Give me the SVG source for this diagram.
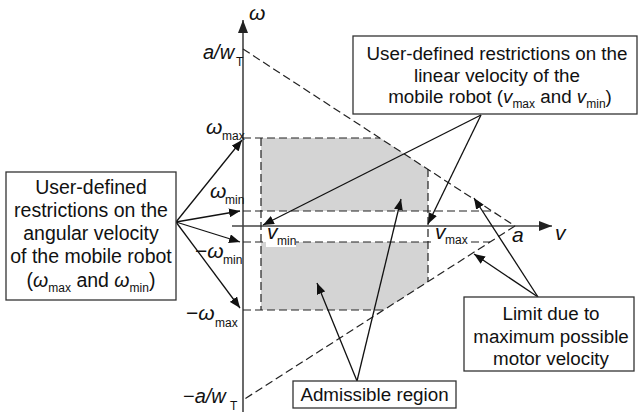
<svg xmlns="http://www.w3.org/2000/svg" width="639" height="412" viewBox="0 0 639 412">
<style>
text{font-family:"Liberation Sans",Arial,sans-serif;fill:#111}
.bt{font-size:19.5px}
.bs{font-size:18.8px}
.m{font-size:21px}
.m2{font-size:20px}
.it{font-style:italic}
.s{font-size:12px}
.box{fill:#fff;stroke:#333;stroke-width:1.3}
.dash{fill:none;stroke:#222;stroke-width:1.2;stroke-dasharray:8 4}
.axis{fill:none;stroke:#444;stroke-width:1.6}
.arr{fill:none;stroke:#111;stroke-width:1.3;marker-end:url(#ah)}
.grey{fill:#d4d4d4;stroke:none}
</style>
<defs>
<marker id="ah" markerUnits="userSpaceOnUse" markerWidth="12" markerHeight="9" refX="11" refY="4.5" orient="auto">
<path d="M0,0 L11,4.5 L0,9 z" fill="#111"/>
</marker>
<marker id="axh" markerUnits="userSpaceOnUse" markerWidth="14" markerHeight="10" refX="13" refY="5" orient="auto">
<path d="M0,0 L13,5 L0,10 z" fill="#222"/>
</marker>
</defs>
<g id="regions">
<polygon class="grey" points="261,138 380,138 428,169.4 428,211 261,211"/>
<polygon class="grey" points="261,242 428,242 428,281.7 383.7,310 261,310"/>
</g>
<g id="axes">
<line class="axis" x1="243" y1="412" x2="243" y2="20" marker-end="url(#axh)"/>
<line class="axis" x1="232" y1="226" x2="552" y2="226" marker-end="url(#axh)"/>
</g>
<g id="limits">
<line class="dash" x1="243" y1="49" x2="515" y2="226"/>
<line class="dash" x1="515" y1="226" x2="243" y2="400"/>
<line class="dash" x1="243" y1="138" x2="380" y2="138"/>
<line class="dash" x1="243" y1="211" x2="492" y2="211"/>
<line class="dash" x1="243" y1="242" x2="490" y2="242"/>
<line class="dash" x1="243" y1="310" x2="384" y2="310"/>
<line class="dash" x1="261" y1="138" x2="261" y2="310"/>
<line class="dash" x1="428" y1="169" x2="428" y2="282"/>
</g>
<g id="axis-labels">
<text class="m it" x="249" y="20">ω</text>
<text class="m2 it" x="203" y="59">a/w</text><text class="s" x="236" y="66">T</text>
<text class="m it" x="206" y="134">ω</text><text class="s" x="222" y="140">max</text>
<text class="m it" x="210" y="198">ω</text><text class="s" x="225" y="204">min</text>
<text class="m" x="195" y="258">−<tspan class="it">ω</tspan></text><text class="s" x="223" y="264">min</text>
<text class="m" x="186" y="320">−<tspan class="it">ω</tspan></text><text class="s" x="215" y="327">max</text>
<text class="m2" x="183" y="403">−<tspan class="it">a/w</tspan></text><text class="s" x="230" y="410">T</text>
<rect x="266" y="229" width="30" height="18" fill="#fff"/>
<text class="m it" x="267" y="239">v</text><text class="s" x="277" y="245">min</text>
<rect x="432" y="229" width="35" height="18" fill="#fff"/>
<text class="m it" x="435" y="239">v</text><text class="s" x="445" y="244">max</text>
<text class="m it" x="512" y="242">a</text>
<text class="m it" x="555" y="240">v</text>
</g>
<g id="connectors">
<line class="arr" x1="176" y1="222" x2="242" y2="140"/>
<line class="arr" x1="176" y1="222" x2="240" y2="211"/>
<line class="arr" x1="176" y1="222" x2="240" y2="242"/>
<line class="arr" x1="176" y1="222" x2="240" y2="308"/>
<line class="arr" x1="481" y1="115" x2="263" y2="225"/>
<line class="arr" x1="481" y1="115" x2="428" y2="224"/>
<line class="arr" x1="538" y1="297" x2="474" y2="198"/>
<line class="arr" x1="538" y1="297" x2="474" y2="254"/>
<line class="arr" x1="357" y1="381" x2="317" y2="283"/>
<line class="arr" x1="357" y1="381" x2="401" y2="199"/>
</g>
<g id="angular-box">
<rect class="box" x="6" y="172" width="170" height="128"/>
<text class="bt" x="91" y="194" text-anchor="middle">User-defined</text>
<text class="bt" x="91" y="217" text-anchor="middle">restrictions on the</text>
<text class="bt" x="91" y="240" text-anchor="middle">angular velocity</text>
<text class="bt" x="91" y="263" text-anchor="middle">of the mobile robot</text>
<text class="bt" x="91" y="287" text-anchor="middle">(<tspan class="it">ω</tspan><tspan class="s" dy="5">max</tspan><tspan dy="-5"> and </tspan><tspan class="it">ω</tspan><tspan class="s" dy="5">min</tspan><tspan dy="-5">)</tspan></text>
</g>
<g id="linear-box">
<rect class="box" x="353" y="36" width="284" height="78"/>
<text class="bs" x="497" y="60" text-anchor="middle">User-defined restrictions on the</text>
<text class="bs" x="497" y="82" text-anchor="middle">linear velocity of the</text>
<text class="bs" x="500" y="103" text-anchor="middle">mobile robot (<tspan class="it">v</tspan><tspan class="s" dy="5">max</tspan><tspan dy="-5"> and </tspan><tspan class="it">v</tspan><tspan class="s" dy="5">min</tspan><tspan dy="-5">)</tspan></text>
</g>
<g id="limit-box">
<rect class="box" x="464" y="297" width="170" height="74"/>
<text class="bs" x="551" y="320" text-anchor="middle">Limit due to</text>
<text class="bs" x="551" y="343" text-anchor="middle">maximum possible</text>
<text class="bs" x="551" y="365" text-anchor="middle">motor velocity</text>
</g>
<g id="admissible-box">
<rect class="box" x="293" y="381" width="163" height="27"/>
<text class="bs" x="374.5" y="401" text-anchor="middle">Admissible region</text>
</g>
</svg>
